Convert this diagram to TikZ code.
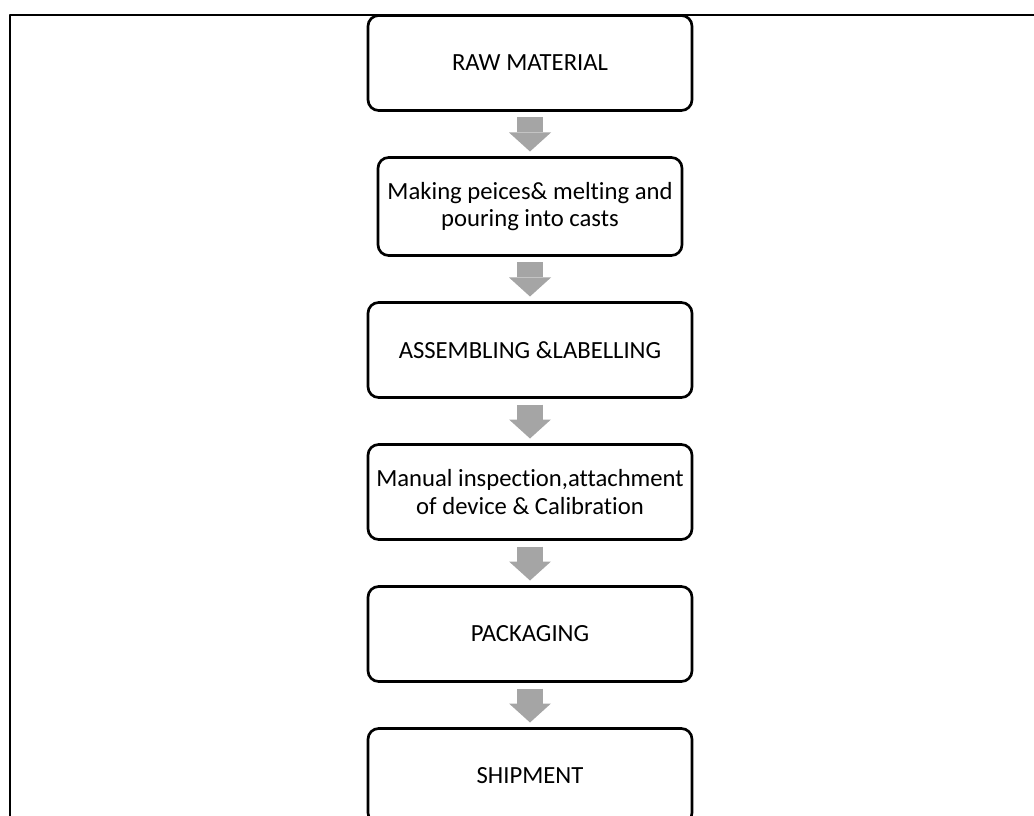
\documentclass[tikz,border=0pt]{standalone}
\usepackage{fontspec}
\setmainfont{Carlito}[Ligatures=NoCommon]
\usetikzlibrary{positioning,arrows.meta}
\definecolor{arrowgray}{RGB}{165,165,165}
\begin{document}
\begin{tikzpicture}[x=0.75pt,y=-0.75pt,line join=round,node distance=33.25pt]
	\tikzset{stage/.style={draw,line width=2pt,rounded corners=8pt,minimum width=243pt,minimum height=71.25pt,align=center,font=\fontsize{18.5}{20.5}\selectfont},
		flow/.style={arrowgray,line width=19.5pt,-{Triangle[width=31.5pt,length=14.25pt,line width=0pt]}}}
	\useasboundingbox (0,0) rectangle (1034,816);
	\clip (0,0) rectangle (1034,816);
	\draw[line width=1.5pt] (10,816) -- (10,15) -- (1034,15);
	\node[stage] (raw) at (530,63) {RAW MATERIAL};
	\node[stage,below=of raw,minimum width=228pt,minimum height=73.5pt] (melt) {Making peices\& melting and\\pouring into casts};
	\node[stage,below=of melt] (assemble) {ASSEMBLING \&LABELLING};
	\node[stage,below=of assemble] (inspect) {Manual inspection,attachment\\of device \& Calibration};
	\node[stage,below=of inspect] (pack) {PACKAGING};
	\node[stage,below=of pack] (ship) {SHIPMENT};
	\foreach \a/\b in {raw/melt,melt/assemble,assemble/inspect,inspect/pack,pack/ship}
		\draw[flow] ([yshift=-4.25pt]\a.south) -- ([yshift=3.5pt]\b.north);
\end{tikzpicture}
\end{document}
